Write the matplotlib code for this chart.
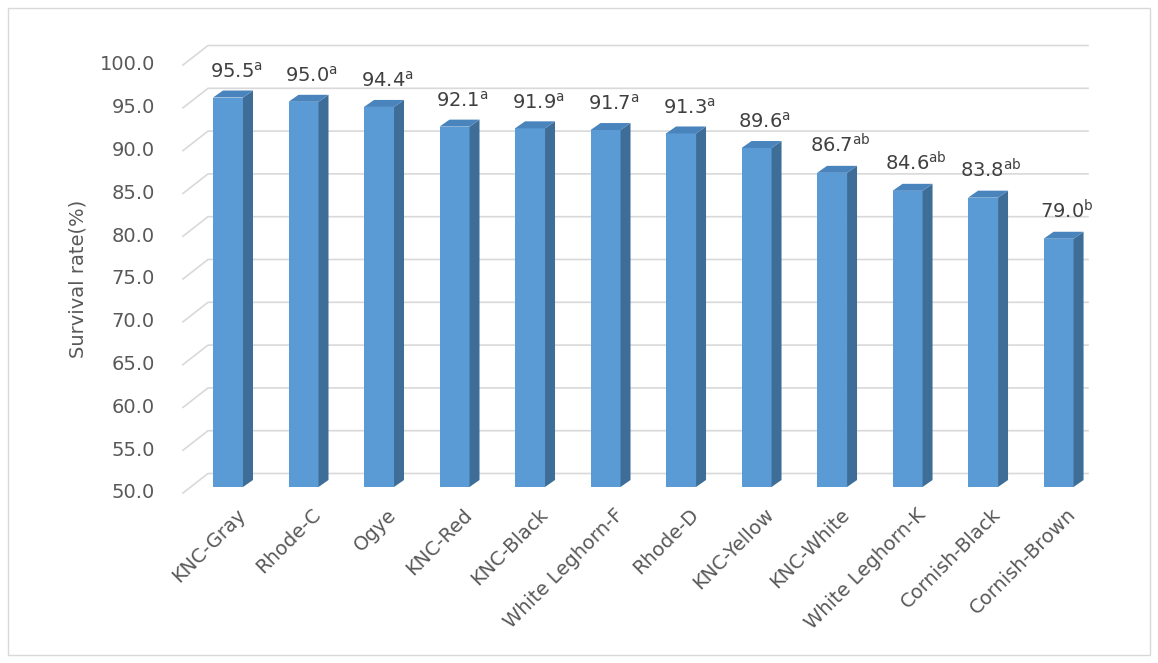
import matplotlib
matplotlib.use("Agg")
import matplotlib.pyplot as plt
from matplotlib.patches import Polygon, Rectangle

categories = ["KNC-Gray", "Rhode-C", "Ogye", "KNC-Red", "KNC-Black", "White Leghorn-F",
              "Rhode-D", "KNC-Yellow", "KNC-White", "White Leghorn-K", "Cornish-Black", "Cornish-Brown"]
values = [95.5, 95.0, 94.4, 92.1, 91.9, 91.7, 91.3, 89.6, 86.7, 84.6, 83.8, 79.0]
letters = ["a", "a", "a", "a", "a", "a", "a", "a", "ab", "ab", "ab", "b"]
yticks = [50, 55, 60, 65, 70, 75, 80, 85, 90, 95, 100]

W, H = 1158, 663
fig = plt.figure(figsize=(W/100, H/100), dpi=100)
fig.patches.append(Rectangle((8/W, 8/H), 1-16/W, 1-16/H, transform=fig.transFigure,
                             fill=False, ec="#D9D9D9", lw=1))
ax = fig.add_axes([183/W, 1-493/H, (1088-183)/W, (493-65)/H])
x0, x1 = -0.596, 11.39
ax.set_xlim(x0, x1); ax.set_ylim(50, 100)
for s in ax.spines.values():
    s.set_visible(False)
ax.set_xticks([]); ax.set_yticks([])

px = 75.5           # px per category
pu = 428/50         # px per unit
wdx, wdy = 25/px, 19.5/pu
grid = "#D9D9D9"
for t in yticks:
    ax.plot([x0, x0+wdx, x1], [t, t+wdy, t+wdy], color=grid, lw=1.2, clip_on=False, zorder=1)
    ax.text(x0-28/px, t, f"{t:.1f}", ha="right", va="center", fontsize=14, color="#595959")
ax.text(x0-105/px, 75, "Survival rate(%)", rotation=90, ha="center", va="center",
        fontsize=14, color="#595959")

bw = 30/px
sdx, sdy = 10/px, 7/pu
shift = 6/pu
base = 50 + shift
front, side, top = "#5B9BD5", "#3E6E98", "#4A84BD"
for i, (v, c, l) in enumerate(zip(values, categories, letters)):
    xl, xr = i - bw/2, i + bw/2
    vt = v + shift
    ax.add_patch(Polygon([(xl, base), (xr, base), (xr, vt), (xl, vt)], closed=True,
                         fc=front, ec="none", zorder=3, clip_on=False))
    ax.add_patch(Polygon([(xr, base), (xr+sdx, base+sdy), (xr+sdx, vt+sdy), (xr, vt)], closed=True,
                         fc=side, ec="none", zorder=3, clip_on=False))
    ax.add_patch(Polygon([(xl, vt), (xr, vt), (xr+sdx, vt+sdy), (xl+sdx, vt+sdy)], closed=True,
                         fc=top, ec="none", zorder=3, clip_on=False))
    ax.text(i + 8/px, vt + 16/pu, f"{v:.1f}$^{{\\mathrm{{{l}}}}}$", ha="center", va="bottom",
            fontsize=14, color="#404040", zorder=4)
    ax.text(i + 8/px, 50 - 12/pu, c, rotation=45, ha="right", va="top",
            rotation_mode="anchor", fontsize=14, color="#595959")

fig.savefig("out.png", dpi=100)
